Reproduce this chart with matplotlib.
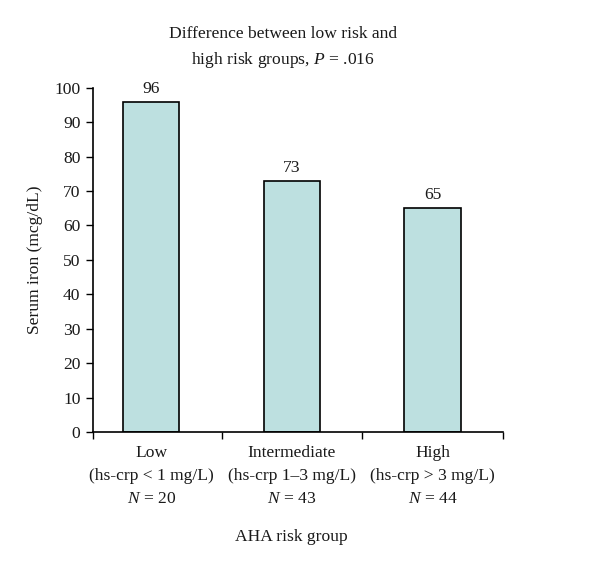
import matplotlib
matplotlib.use("Agg")
import matplotlib.pyplot as plt

categories = ["Low\n(hs-crp < 1 mg/L)\n$N$ = 20",
              "Intermediate\n(hs-crp 1–3 mg/L)\n$N$ = 43",
              "High\n(hs-crp > 3 mg/L)\n$N$ = 44"]
values = [96, 73, 65]
y_ticks = [0, 10, 20, 30, 40, 50, 60, 70, 80, 90, 100]

plt.rcParams['font.family'] = ['Liberation Serif', 'DejaVu Serif']
plt.rcParams['mathtext.fontset'] = 'custom'
plt.rcParams['mathtext.rm'] = 'Liberation Serif'
plt.rcParams['mathtext.it'] = 'Liberation Serif:italic'

fs = 12.6
txt = '#1a1a1a'
fig = plt.figure(figsize=(6, 5.7), dpi=100)
ax = fig.add_axes([0.155, 0.242, 0.683, 0.604])

x = list(range(len(values)))
ax.bar(x, values, width=0.40, color='#bde0e0', edgecolor='black', linewidth=1.2)
for xi, v in zip(x, values):
    ax.text(xi, v + 1.4, f"{v}", ha='center', va='bottom', fontsize=fs, color=txt)

ax.set_xlim(-0.415, 2.5)
ax.set_ylim(0, 100)
ax.set_yticks(y_ticks)
ax.set_yticklabels([str(t) for t in y_ticks], fontsize=fs, color=txt)
ax.tick_params(axis='y', direction='out', length=5, width=1, pad=4)

ax.set_xticks([-0.415, 0.5, 1.5, 2.5])
ax.set_xticklabels([])
ax.tick_params(axis='x', direction='out', length=5, width=1)
for xi, lab in zip(x, categories):
    ax.text(xi, -3.8, lab, ha='center', va='top', fontsize=fs, color=txt,
            linespacing=1.57, transform=ax.transData)

for s in ['top', 'right']:
    ax.spines[s].set_visible(False)
for s in ['left', 'bottom']:
    ax.spines[s].set_linewidth(1.2)

ax.set_ylabel("Serum iron (mcg/dL)", fontsize=fs, color=txt, labelpad=8)
fig.text(0.485, 0.058, "AHA risk group", ha='center', va='center', fontsize=fs, color=txt)
fig.text(0.472, 0.916, "Difference between low risk and\nhigh risk groups, $P$ = .016",
         ha='center', va='center', fontsize=fs, color=txt, linespacing=1.55)

fig.savefig("out.png", dpi=100)
